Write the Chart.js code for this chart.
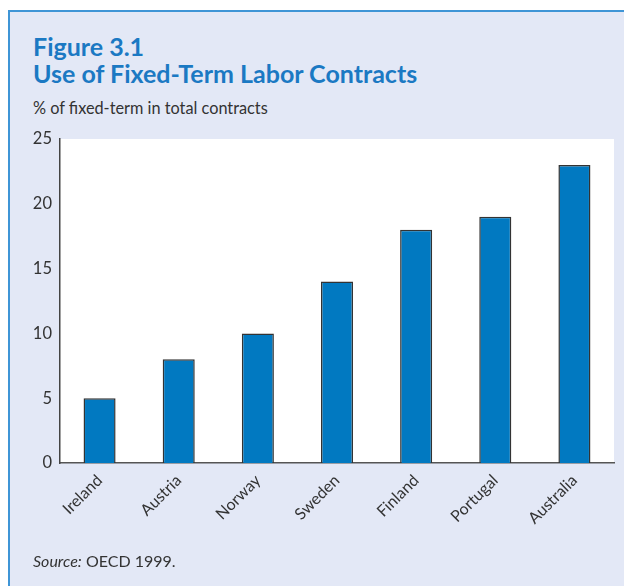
<!DOCTYPE html>
<html>
<head>
<meta charset="utf-8">
<script src="https://cdn.jsdelivr.net/npm/chart.js@4.4.1/dist/chart.umd.min.js"></script>
<style>
  html, body { margin:0; padding:0; background:#fff; }
  body { width:624px; height:586px; overflow:hidden; position:relative; font-family: Lato, "Noto Sans", sans-serif; }
  .panel { position:absolute; left:8px; top:10px; width:640px; height:600px; background:#e3e8f6;
           border-left:2px solid #3f95d6; border-top:2px solid #3f95d6; box-sizing:border-box; }
  .ttl { position:absolute; left:33px; color:#1b79c3; font-weight:bold; font-size:25px; line-height:27px; white-space:nowrap; }
  .sub { position:absolute; left:33px; top:98px; color:#333; font-size:16.3px; white-space:nowrap; }
  .src { position:absolute; left:33px; top:551px; color:#333; font-size:16px; white-space:nowrap; }
  #wrap { position:absolute; left:0; top:0; width:624px; height:586px; }
</style>
</head>
<body>
<div class="panel"></div>
<div class="ttl" style="top:33px">Figure 3.1<br>Use of Fixed-Term Labor Contracts</div>
<div class="sub">% of fixed-term in total contracts</div>
<div id="wrap"><canvas id="c"></canvas></div>
<div class="src"><i>Source:</i> OECD 1999.</div>
<script>
// ==== データ ====
const countries = ['Ireland','Austria','Norway','Sweden','Finland','Portugal','Australia'];
const shares    = [5, 8, 10, 14, 18, 19, 23];
const yTicks    = [0, 5, 10, 15, 20, 25];

const INK = '#333333';
const BAR = '#0179c1';

// プロット領域を白く塗る
const plotBg = {
  id:'plotBg',
  beforeDraw(c){
    const a = c.chartArea, ctx = c.ctx;
    ctx.save();
    ctx.fillStyle = '#ffffff';
    ctx.fillRect(a.left, a.top, a.right - a.left, a.bottom - a.top);
    ctx.restore();
  }
};

new Chart(document.getElementById('c').getContext('2d'), {
  type:'bar',
  data:{ labels:countries, datasets:[{
    data:shares,
    backgroundColor:BAR,
    borderColor:INK,
    borderWidth:1.5,
    borderSkipped:'bottom',
    barPercentage:0.405,
    categoryPercentage:1
  }]},
  options:{
    responsive:true,
    maintainAspectRatio:false,
    animation:false,
    layout:{ padding:{ left:0, right:10, top:139, bottom:0 } },
    scales:{
      x:{
        grid:{ display:false, drawTicks:false },
        border:{ display:true, color:'#555', width:1.5 },
        ticks:{ color:INK, font:{ family:'Lato', size:16 }, minRotation:45, maxRotation:45, autoSkip:false, padding:8 },
        afterFit(s){ s.height = 586 - 463; }
      },
      y:{
        min:0, max:25,
        afterBuildTicks(s){ s.ticks = yTicks.map(v => ({ value:v })); },
        grid:{ display:false, drawTicks:false },
        border:{ display:true, color:'#444', width:1.5 },
        ticks:{ color:INK, font:{ family:'Lato', size:16.5 }, padding:8 },
        afterFit(s){ s.width = 60; }
      }
    },
    plugins:{ legend:{ display:false }, tooltip:{ enabled:false } }
  },
  plugins:[plotBg]
});
</script>
</body>
</html>
